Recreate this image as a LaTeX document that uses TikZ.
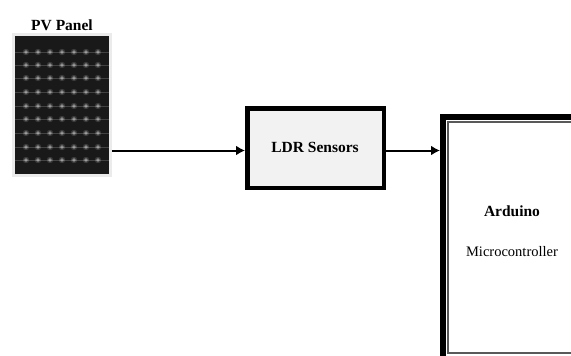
\documentclass[tikz,border=0pt]{standalone}
\usepackage{fontspec}
\setmainfont{Liberation Serif}
\usepackage{tikz}
\usetikzlibrary{arrows.meta}

\begin{document}
\begin{tikzpicture}[
        x=1pt,y=-1pt,
        every node/.style={inner sep=0pt},
        block/.style={draw,line width=4.5pt,fill=black!5,minimum width=136.5pt,minimum height=79.5pt},
        mcu/.style={draw,line width=6pt,fill=white,minimum width=150pt,minimum height=250pt},
        panel/.style={draw=black!8,line width=2.5pt,fill=black!90,minimum width=97pt,minimum height=141pt},
        title/.style={font=\fontsize{15.5}{18}\selectfont\bfseries},
        flow/.style={-{Latex[length=9pt,width=10pt]},line width=2pt}
    ]
        \useasboundingbox (0,0) rectangle (571,356);
        \clip (0,0) rectangle (571,356);

        \node[panel] (pv) at (62,105) {};
        % cell corners of the panel
        \foreach \y in {52,65,78,92,106,119,133,147,160} {
            \draw[white,opacity=.18,line width=1pt] (15,\y) -- (109,\y);
            \foreach \x in {26,38,50,62,74,86,98} {
                \fill[white,opacity=.15] (\x,\y) circle (3.2);
                \fill[white,opacity=.4] (\x,\y) circle (1.8);
            }
        }
        \node[title,above=2.5pt] (pvlabel) at (pv.north) {PV Panel};

        \node[block] (ldr) at (315.5,148) {};
        \node[title] (ldrlabel) at (315,147) {LDR Sensors};

        % bottom edge of the thick frame falls outside the page
        \node[mcu] (uno) at (518,242) {};
        \draw[black!65,line width=2pt] (447.5,121.5) rectangle (590,352.5);
        \node[title] (unolabel) at (512,211) {Arduino};
        \node[font=\fontsize{14.5}{17}\selectfont] (unotext) at (512,252) {Microcontroller};

        \coordinate (ldrin) at ([yshift=-2.5pt]ldr.west);
        \coordinate (unoin) at (uno.west |- ldrin);
        \draw[flow] (pv.east |- ldrin) -- (ldrin);
        \draw[flow] (ldr.east |- ldrin) -- (unoin);
    \end{tikzpicture}
\end{document}
